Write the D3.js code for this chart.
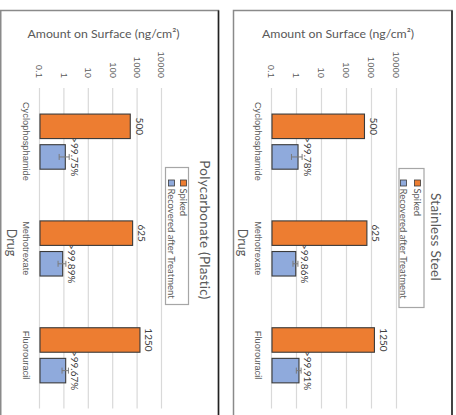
<!DOCTYPE html>
<html>
<head>
<meta charset="utf-8">
<script src="https://cdn.jsdelivr.net/npm/d3@7"></script>
<style>
  html, body { margin: 0; padding: 0; background: #fff; }
  svg { display: block; font-family: Lato, "Open Sans", sans-serif; }
</style>
</head>
<body>
<svg id="chart" width="456" height="415"></svg>
<script>
// Drugs on the category axis and the two series
const categories = ["Cyclophosphamide", "Methotrexate", "Fluorouracil"];
const seriesNames = ["Spiked", "Recovered after Treatment"];
const tickValues = [0.1, 1, 10, 100, 1000, 10000];

// Polycarbonate (Plastic) surface
const spikedPC = [500, 625, 1250];
const recoveredPC = [1.09, 0.85, 1.13];
const errorPC = [0.48, 0.30, 0.33];
const recoveryLabelsPC = [">99.75%", ">99.89%", ">99.67%"];

// Stainless steel surface
const spikedSS = [500, 625, 1250];
const recoveredSS = [1.10, 0.89, 1.20];
const errorSS = [0.50, 0.20, 0.26];
const recoveryLabelsSS = [">99.78%", ">99.86%", ">99.91%"];

const colors = { "Spiked": "#ED7D31", "Recovered after Treatment": "#8FAADC" };
const textGray = "#595959";

const svg = d3.select("#chart");

// Each panel is laid out as an ordinary column chart, then turned 90° clockwise.
function drawPanel(cfg) {
  // outer frame (page coordinates)
  svg.append("rect")
    .attr("x", cfg.frame[0]).attr("y", cfg.frame[1])
    .attr("width", cfg.frame[2] - cfg.frame[0]).attr("height", 430)
    .attr("fill", "none").attr("stroke", "#8a8a8a").attr("stroke-width", 1.5);
  svg.append("line")
    .attr("x1", cfg.frame[2]).attr("x2", cfg.frame[2])
    .attr("y1", cfg.frame[1]).attr("y2", 420)
    .attr("stroke", "#222").attr("stroke-width", 1.5);

  const g = svg.append("g")
    .attr("transform", `translate(${cfg.origin[0]},${cfg.origin[1]}) rotate(90)`);

  const plotLeft = 77.5, plotRight = 398;
  const x0 = d3.scaleBand().domain(categories).range([plotLeft, plotRight]);
  const x1 = d3.scaleBand().domain(seriesNames)
    .range([x0.bandwidth() * 0.244, x0.bandwidth() * 0.76]).paddingInner(0.2);
  const y = d3.scaleLog().domain([0.1, 10000]).range(cfg.valueRange);

  // value axis with gridlines
  const yAxis = g.append("g")
    .attr("transform", `translate(${plotLeft},0)`)
    .call(d3.axisLeft(y).tickValues(tickValues)
      .tickFormat(d => String(d))
      .tickSize(-(plotRight - plotLeft)).tickPadding(10));
  yAxis.select(".domain").remove();
  yAxis.selectAll(".tick line").attr("stroke", "#d9d9d9").attr("stroke-width", 1.2);
  yAxis.selectAll(".tick text").attr("fill", textGray).attr("font-size", 9.5);

  // category axis
  const xAxis = g.append("g")
    .attr("transform", `translate(0,${y(0.1)})`)
    .call(d3.axisBottom(x0).tickSize(0).tickPadding(10.5));
  xAxis.select(".domain").remove();
  xAxis.selectAll(".tick text").attr("fill", textGray).attr("font-size", 9.3);

  const rows = categories.map((c, i) => ({
    cat: c,
    values: [
      { s: "Spiked", v: cfg.spiked[i], label: String(cfg.spiked[i]) },
      { s: "Recovered after Treatment", v: cfg.recovered[i], err: cfg.error[i], label: cfg.labels[i] }
    ]
  }));

  const groups = g.selectAll(".grp").data(rows).join("g")
    .attr("transform", d => `translate(${x0(d.cat)},0)`);

  groups.selectAll("rect").data(d => d.values).join("rect")
    .attr("x", d => x1(d.s))
    .attr("width", x1.bandwidth())
    .attr("y", d => y(d.v))
    .attr("height", d => y(0.1) - y(d.v))
    .attr("fill", d => colors[d.s])
    .attr("stroke", "#3a3a3a").attr("stroke-width", 1.1);

  // error bars on the recovered amounts
  const eb = groups.selectAll(".err").data(d => d.values.filter(v => v.err != null)).join("g")
    .attr("stroke", "#7a7a7a").attr("stroke-width", 1);
  eb.append("line")
    .attr("x1", d => x1(d.s) + x1.bandwidth() / 2).attr("x2", d => x1(d.s) + x1.bandwidth() / 2)
    .attr("y1", d => y(d.v - d.err)).attr("y2", d => y(d.v + d.err));
  eb.append("line")
    .attr("x1", d => x1(d.s) + x1.bandwidth() / 2 - 3).attr("x2", d => x1(d.s) + x1.bandwidth() / 2 + 3)
    .attr("y1", d => y(d.v - d.err)).attr("y2", d => y(d.v - d.err));
  eb.append("line")
    .attr("x1", d => x1(d.s) + x1.bandwidth() / 2 - 3).attr("x2", d => x1(d.s) + x1.bandwidth() / 2 + 3)
    .attr("y1", d => y(d.v + d.err)).attr("y2", d => y(d.v + d.err));

  // value labels
  groups.selectAll(".lbl").data(d => d.values).join("text")
    .attr("x", d => x1(d.s) + x1.bandwidth() / 2)
    .attr("y", d => y(d.v) - 5.5)
    .attr("text-anchor", "middle")
    .attr("font-size", 10).attr("fill", "#404040")
    .text(d => d.label);

  // axis titles
  g.append("text")
    .attr("transform", `translate(${cfg.valueTitleU},${cfg.valueTitleV}) rotate(-90)`)
    .attr("text-anchor", "middle").attr("font-size", 12.3).attr("fill", textGray)
    .text("Amount on Surface (ng/cm²)");
  g.append("text")
    .attr("x", 232).attr("y", cfg.catTitleV)
    .attr("text-anchor", "middle").attr("font-size", 12.5).attr("fill", textGray)
    .text("Drug");

  // chart title
  g.append("text")
    .attr("x", cfg.titleU).attr("y", cfg.titleV)
    .attr("text-anchor", "middle").attr("font-size", 13.4).attr("fill", textGray)
    .attr("letter-spacing", 0.3)
    .text(cfg.title);

  // legend
  const lg = g.append("g");
  lg.append("rect")
    .attr("x", cfg.legendBox[0]).attr("y", cfg.legendBox[1])
    .attr("width", cfg.legendBox[2] - cfg.legendBox[0])
    .attr("height", cfg.legendBox[3] - cfg.legendBox[1])
    .attr("fill", "#fff").attr("stroke", "#a6a6a6").attr("stroke-width", 1.2);
  seriesNames.forEach((s, i) => {
    const cy = cfg.legendRows[i];
    lg.append("rect")
      .attr("x", 169.5).attr("y", cy - 3).attr("width", 6).attr("height", 6)
      .attr("fill", colors[s]).attr("stroke", "#3a3a3a").attr("stroke-width", 0.8);
    lg.append("text")
      .attr("x", 178).attr("y", cy + 3.5)
      .attr("font-size", 9.5).attr("fill", textGray)
      .text(s);
  });
}

drawPanel({
  title: "Polycarbonate (Plastic)",
  frame: [0.75, 10.5, 218.5],
  origin: [218.5, 10.5],
  valueRange: [178.5, 56.5],
  spiked: spikedPC, recovered: recoveredPC, error: errorPC, labels: recoveryLabelsPC,
  valueTitleU: 27, valueTitleV: 115,
  catTitleV: 212,
  titleU: 219.5, titleV: 18.5,
  legendBox: [157, 30, 294, 53],
  legendRows: [35, 47]
});

drawPanel({
  title: "Stainless Steel",
  frame: [233.5, 10.5, 452],
  origin: [452, 10.5],
  valueRange: [180, 55],
  spiked: spikedSS, recovered: recoveredSS, error: errorSS, labels: recoveryLabelsSS,
  valueTitleU: 27, valueTitleV: 114,
  catTitleV: 214,
  titleU: 226.5, titleV: 21.5,
  legendBox: [158, 28, 297, 53],
  legendRows: [34.5, 48.5]
});
</script>
</body>
</html>
